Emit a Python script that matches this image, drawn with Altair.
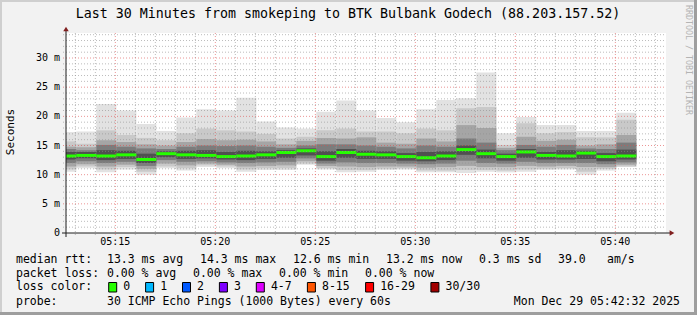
import altair as alt
import pandas as pd

# ---------------- data ----------------
TITLE = "Last 30 Minutes from smokeping to BTK Bulbank Godech (88.203.157.52)"
Y_TITLE = "Seconds"
WATERMARK = "RRDTOOL / TOBI OETIKER"

x_start = "05:12:32"
x_end = "05:42:32"
y_top = 34.29

bar_end = ["05:13:03", "05:14:03", "05:15:03", "05:16:03", "05:17:03", "05:18:03",
           "05:19:03", "05:20:03", "05:21:03", "05:22:03", "05:23:03", "05:24:03",
           "05:25:03", "05:26:03", "05:27:03", "05:28:03", "05:29:03", "05:30:03",
           "05:31:03", "05:32:03", "05:33:03", "05:34:03", "05:35:03", "05:36:03",
           "05:37:03", "05:38:03", "05:39:03", "05:40:03", "05:41:03"]

max_ms = [17.3, 17.4, 22.1, 21.0, 18.7, 17.5, 19.8, 21.2, 21.0, 23.2, 19.1, 18.1, 17.9, 20.8, 22.7,
          21.0, 19.7, 19.0, 21.2, 22.8, 23.1, 27.5, 17.1, 19.9, 18.5, 18.5, 17.5, 17.5, 20.6]
up1_ms = [15.7, 15.3, 17.6, 16.8, 16.3, 15.9, 17.1, 17.9, 17.6, 17.4, 17.0, 16.2, 16.5, 17.6, 17.9,
          17.4, 17.4, 17.1, 17.9, 17.6, 21.4, 21.6, 15.1, 18.8, 17.1, 17.3, 16.4, 16.4, 19.4]
up2_ms = [14.8, 14.7, 15.9, 15.6, 15.2, 15.0, 15.6, 16.1, 15.9, 16.0, 15.7, 15.2, 15.8, 16.3, 16.2,
          16.4, 15.5, 15.3, 16.2, 15.7, 18.5, 18.0, 14.6, 16.5, 15.8, 16.0, 15.0, 15.2, 16.8]
up3_ms = [14.4, 14.2, 15.1, 14.8, 14.5, 14.4, 14.8, 15.0, 14.9, 15.0, 14.8, 14.6, 15.0, 15.2, 15.2,
          15.0, 14.8, 14.5, 15.0, 14.8, 16.2, 15.5, 14.2, 15.1, 14.8, 15.1, 14.5, 14.4, 15.5]
up4_ms = [13.9, 13.9, 14.2, 14.1, 13.6, 14.0, 14.1, 14.2, 13.9, 14.1, 14.0, 14.2, 14.5, 14.0, 14.4,
          14.1, 14.0, 13.7, 13.9, 14.0, 15.0, 14.3, 13.6, 14.4, 13.9, 14.2, 14.1, 13.7, 14.3]
median_ms = [13.2, 13.3, 13.2, 13.4, 12.6, 13.6, 13.4, 13.3, 13.1, 13.2, 13.4, 13.8, 14.1, 13.1, 13.8,
             13.5, 13.4, 13.1, 12.9, 13.2, 14.3, 13.6, 13.1, 13.9, 13.3, 13.2, 13.7, 13.1, 13.2]
lo4_ms = [12.6, 12.8, 12.5, 12.7, 12.0, 13.0, 12.7, 12.8, 12.6, 12.5, 12.7, 12.9, 13.3, 12.4, 12.9,
          12.7, 12.7, 12.4, 12.3, 12.5, 13.4, 12.8, 12.4, 12.9, 12.6, 12.6, 12.7, 12.3, 12.6]
lo3_ms = [12.0, 12.3, 12.0, 12.2, 11.5, 12.5, 12.2, 12.3, 12.1, 12.0, 12.1, 12.2, 12.8, 11.9, 12.1,
          12.0, 12.0, 11.9, 11.8, 11.9, 12.4, 12.0, 11.9, 12.2, 12.0, 12.0, 12.0, 11.8, 12.1]
lo2_ms = [11.4, 11.8, 11.4, 11.7, 11.0, 11.9, 11.6, 11.9, 11.7, 11.4, 11.5, 11.6, 12.3, 11.5, 11.4,
          11.3, 11.4, 11.4, 11.2, 11.3, 11.5, 11.3, 11.3, 11.5, 11.4, 11.5, 11.3, 11.3, 11.7]
lo1_ms = [10.9, 11.4, 10.9, 11.3, 10.5, 11.4, 11.1, 11.6, 11.4, 10.9, 11.1, 11.1, 11.9, 11.1, 10.8,
          10.8, 11.0, 11.1, 10.7, 10.7, 10.8, 10.8, 10.7, 10.9, 11.0, 11.1, 10.5, 11.0, 11.4]
min_ms = [10.5, 11.1, 10.4, 10.9, 10.0, 11.1, 10.7, 11.3, 11.1, 10.5, 10.8, 10.8, 11.7, 10.9, 10.4,
          10.5, 10.8, 10.9, 10.4, 10.4, 10.3, 10.5, 10.4, 10.5, 10.8, 10.9, 10.0, 10.7, 11.3]

x_tick_labels = ["05:15", "05:20", "05:25", "05:30", "05:35", "05:40"]
y_tick_values = [0, 5, 10, 15, 20, 25, 30]

legend_rtt = ["median rtt:", "13.3 ms avg", "14.3 ms max", "12.6 ms min", "13.2 ms now",
              "0.3 ms sd", "39.0", "am/s"]
legend_loss = ["packet loss:", "0.00 % avg", "0.00 % max", "0.00 % min", "0.00 % now"]
loss_title = "loss color:"
loss_classes = ["0", "1", "2", "3", "4-7", "8-15", "16-29", "30/30"]
loss_colors = ["#26ff00", "#00b8ff", "#0059ff", "#7e00ff", "#dd00ff", "#ff5500", "#ff0000", "#a10000"]
probe_title = "probe:"
probe_text = "30 ICMP Echo Pings (1000 Bytes) every 60s"
timestamp = "Mon Dec 29 05:42:32 2025"

# ---------------- layout / style ----------------
W, H = 600, 200
PL, PT = 66, 33
FONT = "DejaVu Sans Mono"
MEDIAN_COLOR = loss_colors[0]
band_colors = ["#e2e2e2", "#c9c9c9", "#a5a5a5", "#7c7c7c", "#505050"]


def to_min(s):
    h, m, sec = (int(p) for p in s.split(":"))
    return h * 60 + m + sec / 60.0


x0, x1 = to_min(x_start), to_min(x_end)
xs = alt.Scale(domain=[x0, x1], nice=False, zero=False)
ys = alt.Scale(domain=[0, y_top], nice=False, zero=False)

ends = [to_min(t) for t in bar_end]
starts = [e - 1.0 for e in ends]

lows = [min_ms, lo1_ms, lo2_ms, lo3_ms, lo4_ms]
highs = [max_ms, up1_ms, up2_ms, up3_ms, up4_ms]
rows = []
for b, (lo, hi) in enumerate(zip(lows, highs)):
    for i in range(len(ends)):
        rows.append({"start": starts[i], "end": ends[i], "lo": lo[i], "hi": hi[i], "band": f"b{b}"})
smoke_df = pd.DataFrame(rows)
med_df = pd.DataFrame({"start": starts, "end": ends, "med": median_ms})

smoke = alt.Chart(smoke_df).mark_rect(clip=True).encode(
    x=alt.X("start:Q", scale=xs, axis=None), x2="end:Q",
    y=alt.Y("lo:Q", scale=ys, axis=None), y2="hi:Q",
    color=alt.Color("band:N", scale=alt.Scale(domain=[f"b{i}" for i in range(5)], range=band_colors),
                    legend=None),
)
median = alt.Chart(med_df).mark_rule(clip=True, strokeWidth=3, color=MEDIAN_COLOR).encode(
    x=alt.X("start:Q", scale=xs, axis=None), x2="end:Q",
    y=alt.Y("med:Q", scale=ys, axis=None),
)

# grid
major_x = [to_min(t + ":00") for t in x_tick_labels]
minor_x = [m for m in range(int(x0) + 1, int(x1) + 1) if m not in major_x]
major_y = [v for v in y_tick_values if v > 0]
minor_y = [v for v in range(1, int(y_top) + 1) if v % 5 != 0]

GRID = dict(color="#8f8f8f", strokeOpacity=0.6, strokeWidth=1, strokeDash=[1, 2])
MGRID = dict(color="#de4f4f", strokeOpacity=0.6, strokeWidth=1, strokeDash=[1, 2])

gx_minor = alt.Chart(pd.DataFrame({"t": minor_x})).mark_rule(**GRID).encode(
    x=alt.X("t:Q", scale=xs, axis=None), y=alt.value(0), y2=alt.value(H + 3))
gy_minor = alt.Chart(pd.DataFrame({"v": minor_y})).mark_rule(**GRID).encode(
    y=alt.Y("v:Q", scale=ys, axis=None), x=alt.value(-3), x2=alt.value(W))
gx_major = alt.Chart(pd.DataFrame({"t": major_x})).mark_rule(**MGRID).encode(
    x=alt.X("t:Q", scale=xs, axis=None), y=alt.value(0), y2=alt.value(H + 3))
gy_major = alt.Chart(pd.DataFrame({"v": major_y})).mark_rule(**MGRID).encode(
    y=alt.Y("v:Q", scale=ys, axis=None), x=alt.value(-3), x2=alt.value(W))

# tick labels
xt = alt.Chart(pd.DataFrame({"t": major_x, "label": x_tick_labels})).mark_text(
    font=FONT, fontSize=10, baseline="middle", align="center", color="black").encode(
    x=alt.X("t:Q", scale=xs, axis=None), y=alt.value(H + 9), text="label:N")
yt = alt.Chart(pd.DataFrame({"v": y_tick_values,
                             "label": [("0" if v == 0 else f"{v} m") for v in y_tick_values]})).mark_text(
    font=FONT, fontSize=10, baseline="middle", align="right", color="black").encode(
    y=alt.Y("v:Q", scale=ys, axis=None), x=alt.value(-6), text="label:N")

one = pd.DataFrame({"a": [0]})


def txt(s, x, y, size=11.5, align="left", angle=0, color="black", baseline="middle"):
    return alt.Chart(one).mark_text(font=FONT, fontSize=size, align=align, baseline=baseline,
                                    angle=angle, color=color).encode(
        x=alt.value(x - PL), y=alt.value(y - PT), text=alt.value(s))


def box(x_a, x_b, y_a, y_b, color, stroke=None):
    kw = dict(color=color)
    if stroke:
        kw.update(stroke=stroke, strokeWidth=1)
    return alt.Chart(one).mark_rect(**kw).encode(
        x=alt.value(x_a - PL), x2=alt.value(x_b - PL), y=alt.value(y_a - PT), y2=alt.value(y_b - PT))


def rule(x_a, y_a, x_b, y_b, color):
    return alt.Chart(one).mark_rule(color=color, strokeWidth=1).encode(
        x=alt.value(x_a - PL), x2=alt.value(x_b - PL), y=alt.value(y_a - PT), y2=alt.value(y_b - PT))


def arrow(x, y, shape):
    return alt.Chart(one).mark_point(shape=shape, filled=True, size=30, color="#801f1f", opacity=1).encode(
        x=alt.value(x - PL), y=alt.value(y - PT))


layers = [smoke, median, gx_minor, gy_minor, gx_major, gy_major, xt, yt]

# axes
layers += [rule(66, 237, 66, 29, "#1f1f1f"), rule(62, 233, 671, 233, "#1f1f1f"),
           arrow(66, 29, "triangle-up"), arrow(672, 233, "triangle-right")]

# title, y title, watermark
layers += [txt(TITLE, 348, 14, size=13.3, align="center"),
           txt(Y_TITLE, 11, 132, size=11, align="center", angle=270),
           txt(WATERMARK, 688, 60, size=8.3, align="center", angle=90, color="#b4b4b4")]

# legend lines
rtt_x = [16, 107, 200, 293, 386, 479, 558, 607]
for s, x in zip(legend_rtt, rtt_x):
    layers.append(txt(s, x, 259.5))
loss_x = [16, 107, 193, 279, 365]
for s, x in zip(legend_loss, loss_x):
    layers.append(txt(s, x, 273.5))
layers.append(txt(loss_title, 16, 287))
bx = 108.7
for lab, col in zip(loss_classes, loss_colors):
    layers.append(box(bx, bx + 8, 282.5, 292, col, stroke="black"))
    lx = bx + 14.6
    layers.append(txt(lab, lx, 287))
    bx = lx + len(lab) * 7.1 + 15.2
layers += [txt(probe_title, 16, 301.5), txt(probe_text, 107, 301.5),
           txt(timestamp, 680, 301.5, align="right")]

# frame
layers += [box(0, 697, 0, 2, "#cfcfcf"), box(0, 2, 0, 315, "#cfcfcf"),
           box(0, 697, 312, 315, "#9e9e9e"), box(694, 697, 0, 315, "#9e9e9e")]

chart = alt.layer(*layers).properties(
    width=W, height=H,
    autosize=alt.AutoSizeParams(type="none"),
    padding={"left": PL, "top": PT, "right": 697 - PL - W, "bottom": 315 - PT - H},
    background="#f2f2f2",
).configure_view(fill="white", stroke=None)

chart.save("out.html", embed_options={"renderer": "svg", "actions": False})
